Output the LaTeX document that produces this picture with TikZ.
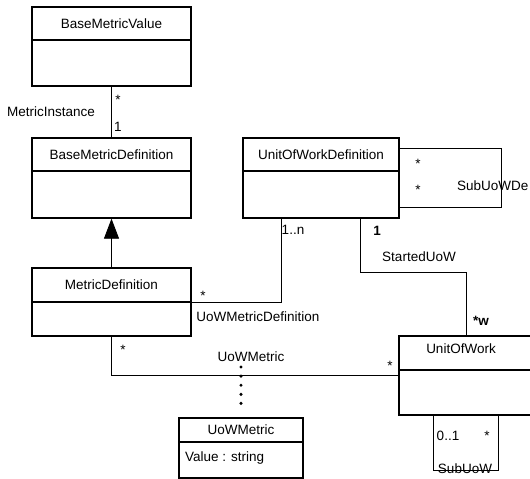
\documentclass[tikz,border=0pt]{standalone}
\usepackage{fontspec}
\setmainfont{Liberation Sans}
\usetikzlibrary{arrows.meta}

\begin{document}
\begin{tikzpicture}[x=1pt, y=-1pt, font=\fontsize{13.5}{16}\selectfont,
    classbox/.style={draw, line width=1.3pt, inner sep=0pt},
    classhead/.style={draw, line width=1.3pt, inner sep=0pt, anchor=north},
    assoc/.style={line width=0.8pt},
    lbl/.style={inner sep=0pt, text height=0.72em, text depth=0.21em},
    dots/.style={line width=3.4pt, line cap=round, dash pattern=on 0pt off 9.1pt, shorten >=5pt}]
    \path [use as bounding box, clip] (0,0) rectangle (530,479);

    % Classes {bmv, bmd, md, uowd, uow, uowm}
    \node [classbox, minimum width=159pt, minimum height=79pt] 	(bmv) 	at (111.5,46.5)	{};
    \node [classhead, minimum width=159pt, minimum height=33pt] (bmv-head) at (bmv.north) 	{BaseMetricValue};
    \node [classbox, minimum width=159pt, minimum height=80pt] 	(bmd) 	at (111.5,178) 	{};
    \node [classhead, minimum width=159pt, minimum height=33pt] (bmd-head) at (bmd.north) 	{BaseMetricDefinition};
    \node [classbox, minimum width=159pt, minimum height=68pt] 	(md) 	at (111.5,302) 	{};
    \node [classhead, minimum width=159pt, minimum height=34pt] (md-head) 	at (md.north) 	{MetricDefinition};
    \node [classbox, minimum width=156pt, minimum height=80pt] 	(uowd) 	at (321,178) 	{};
    \node [classhead, minimum width=156pt, minimum height=33pt] (uowd-head) at (uowd.north) {UnitOfWorkDefinition};
    \node [classbox, minimum width=141pt, minimum height=79pt] 	(uow) 	at (469.5,375.5) {};
    \node [classhead, minimum width=141pt, minimum height=34pt] (uow-head) at (uow.north) 	{};
    \node [lbl] 						(uow-name) at (461,351) 	{UnitOfWork};
    \node [classbox, minimum width=124pt, minimum height=60pt] 	(uowm) 	at (241,448) 	{};
    \node [classhead, minimum width=124pt, minimum height=24pt] (uowm-head) at (uowm.north) {UoWMetric};
    \node [lbl, anchor=west] 				(uowm-attr) at (185,459) 	{Value : string};

    % Paths
    \draw [assoc] 	(bmv.south) -- (bmd.north);
    \draw [assoc, -{Triangle[length=20pt,width=15pt]}] 	(md.north) -- (bmd.south);
    \draw [assoc] 	([xshift=-40pt]uowd.south) |- (md.east);
    \draw [assoc] 	([xshift=39pt]uowd.south) -- ++(0,54) -| ([xshift=-3.5pt]uow.north);
    \draw [assoc] 	(md.south) |- (uow.west);
    \draw [assoc] 	([yshift=-11pt]uowd.north east) -- ++(102,0) |- ([yshift=11pt]uowd.south east);
    \draw [assoc] 	([xshift=-36.5pt]uow.south) -- ++(0,55) -| ([xshift=28.5pt]uow.south);
    \coordinate (dotstart) at (241,367);
    \draw [dots] 	(dotstart) -- (uowm.north);

    % Labels
    \node [lbl] 	(mi-name) 	at (51,114) 	{MetricInstance};
    \node [lbl] 	(mi-many) 	at (118,102) 	{*};
    \node [lbl] 	(mi-one) 	at (118,129) 	{1};
    \node [lbl] 	(umd-many) 	at (203,298) 	{*};
    \node [lbl] 	(umd-one) 	at (293,232) 	{1..n};
    \node [lbl] 	(umd-name) 	at (258,319) 	{UoWMetricDefinition};
    \node [lbl] 	(su-one) 	at (377,233) 	{\bfseries 1};
    \node [lbl] 	(su-name) 	at (419,259) 	{StartedUoW};
    \node [lbl] 	(su-many) 	at (481,323) 	{\bfseries *w};
    \node [lbl] 	(sud-a) 	at (418,166) 	{*};
    \node [lbl] 	(sud-b) 	at (418,192) 	{*};
    \node [lbl, anchor=west] (sud-name) at (457,188) {SubUoWDe};
    \node [lbl] 	(um-name) 	at (251,359) 	{UoWMetric};
    \node [lbl] 	(um-a) 		at (123,352) 	{*};
    \node [lbl] 	(um-b) 		at (390,368) 	{*};
    \node [lbl] 	(sub-zero) 	at (448,438) 	{0..1};
    \node [lbl] 	(sub-many) 	at (487,438) 	{*};
    \node [lbl] 	(sub-name) 	at (465,471) 	{SubUoW};
\end{tikzpicture}
\end{document}
